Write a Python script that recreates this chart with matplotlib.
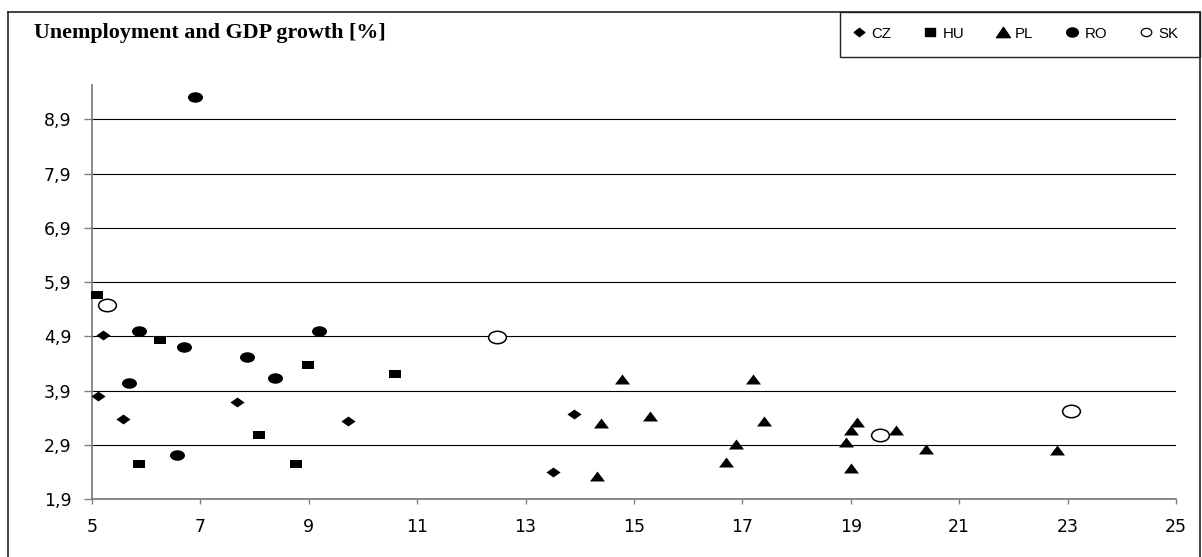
import matplotlib
matplotlib.use("Agg")
import matplotlib.pyplot as plt
from matplotlib.path import Path
from matplotlib.transforms import Affine2D
from matplotlib.lines import Line2D
from matplotlib.patches import Rectangle

# Unemployment rate (x, %) vs GDP growth (y, %)
cz_x = [5.20, 5.11, 5.58, 7.68, 9.72, 13.89, 13.50]
cz_y = [4.93, 3.80, 3.37, 3.69, 3.34, 3.48, 2.40]
hu_x = [5.10, 6.26, 8.99, 10.59, 8.09, 5.87, 8.76]
hu_y = [5.67, 4.83, 4.37, 4.21, 3.08, 2.55, 2.55]
pl_x = [14.78, 17.20, 15.29, 14.39, 17.39, 16.89, 16.69, 14.32,
        19.11, 19.00, 18.92, 19.83, 19.00, 20.39, 22.80]
pl_y = [4.11, 4.11, 3.44, 3.30, 3.35, 2.91, 2.58, 2.33,
        3.33, 3.18, 2.95, 3.18, 2.47, 2.83, 2.80]
ro_x = [6.90, 5.87, 9.19, 6.69, 7.86, 8.37, 5.68, 6.57]
ro_y = [9.30, 5.00, 5.00, 4.70, 4.52, 4.13, 4.05, 2.71]
sk_x = [5.28, 12.47, 19.54, 23.07]
sk_y = [5.48, 4.88, 3.08, 3.53]

x_ticks = [5, 7, 9, 11, 13, 15, 17, 19, 21, 23, 25]
y_ticks = [1.9, 2.9, 3.9, 4.9, 5.9, 6.9, 7.9, 8.9]
title = "Unemployment and GDP growth [%]"

W, H = 1202, 557
fig = plt.figure(figsize=(W / 100, H / 100), dpi=100)

# flattened marker shapes
def flat(path, sq=0.7):
    return Path(Affine2D().scale(1, sq).transform(path.vertices), path.codes)

def shapes(sq):
    return {
        "diamond": flat(Path([(0, 1), (1, 0), (0, -1), (-1, 0), (0, 1)],
                             closed=True), sq),
        "square": flat(Path([(-1, -1), (1, -1), (1, 1), (-1, 1), (-1, -1)],
                            closed=True), sq),
        "triangle": flat(Path([(-1, -0.95), (1, -0.95), (0, 0.95),
                               (-1, -0.95)], closed=True), sq),
        "circle": flat(Path.unit_circle(), sq),
    }

mk = shapes(0.7)
mk_leg = shapes(0.78)

# plot area in pixel coordinates
L, R, T, B = 92, 1176, 85, 499.3
ax = fig.add_axes([L / W, (H - B) / H, (R - L) / W, (B - T) / H])
ax.set_xlim(5, 25)
ax.set_ylim(1.9, 1.9 + (B - T) / 54.3)

series = [
    ("CZ", cz_x, cz_y, "diamond", 10.2, "black", 0),
    ("HU", hu_x, hu_y, "square", 8.8, "black", 0),
    ("PL", pl_x, pl_y, "triangle", 10.8, "black", 0),
    ("RO", ro_x, ro_y, "circle", 10.8, "black", 0),
    ("SK", sk_x, sk_y, "circle", 12.8, "white", 1.1),
]
for name, xs, ys, shape, ms, fc, ew in series:
    ax.plot(xs, ys, linestyle="none", marker=mk[shape], markersize=ms,
            markerfacecolor=fc, markeredgecolor="black",
            markeredgewidth=ew, zorder=3, clip_on=False)

ax.set_xticks(x_ticks)
ax.set_xticklabels([str(v) for v in x_ticks])
ax.set_yticks(y_ticks)
ax.set_yticklabels([f"{v:.1f}".replace(".", ",") for v in y_ticks])
ax.tick_params(axis="both", direction="out", width=1, color="#808080",
               labelsize=12.5, labelfontfamily="DejaVu Sans")
ax.tick_params(axis="x", length=3.5, pad=10)
ax.tick_params(axis="y", length=5.8, pad=9)

ax.grid(axis="y", color="black", linewidth=0.8)
ax.set_axisbelow(True)
for s in ("top", "right"):
    ax.spines[s].set_visible(False)
for s in ("left", "bottom"):
    ax.spines[s].set_color("#808080")
    ax.spines[s].set_linewidth(1.3)
    ax.spines[s].set_zorder(2.5)

# outer chart frame (open at the bottom)
fx0, fy0, fx1 = 7.5 / W, 1 - 12 / H, 1199.5 / W
for xs_, ys_ in (([fx0, fx0], [-0.1, fy0]), ([fx0, fx1], [fy0, fy0]),
                 ([fx1, fx1], [fy0, -0.1])):
    fig.add_artist(Line2D(xs_, ys_, transform=fig.transFigure,
                          color="#222222", linewidth=1.2))

fig.text(34 / W, 1 - 38 / H, title, family="Liberation Serif",
         fontweight="bold", fontsize=15.8, ha="left", va="baseline")

# legend box
lx0, ly1 = 840 / W, 1 - 57 / H
fig.add_artist(Rectangle((lx0, ly1), fx1 - lx0, fy0 - ly1,
                         transform=fig.transFigure, facecolor="white",
                         edgecolor="#222222", linewidth=1.0))
handles = [
    Line2D([], [], linestyle="none", marker=mk_leg["diamond"],
           markersize=7.6, color="black"),
    Line2D([], [], linestyle="none", marker=mk_leg["square"],
           markersize=7.8, color="black"),
    Line2D([], [], linestyle="none", marker=mk_leg["triangle"],
           markersize=10, color="black"),
    Line2D([], [], linestyle="none", marker=mk_leg["circle"],
           markersize=8.4, color="black"),
    Line2D([], [], linestyle="none", marker=mk_leg["circle"],
           markersize=7.6, markerfacecolor="white", markeredgecolor="black",
           markeredgewidth=0.9),
]
leg = fig.legend(handles, [s[0] for s in series], ncol=5,
                 loc="center left", bbox_to_anchor=(852.5 / W, 1 - 33.5 / H),
                 frameon=False, borderpad=0, borderaxespad=0,
                 handlelength=0.9, handletextpad=0.35, columnspacing=2.15,
                 prop={"family": "Liberation Sans", "size": 10.8})

fig.savefig("out.png", dpi=100, facecolor="white")
